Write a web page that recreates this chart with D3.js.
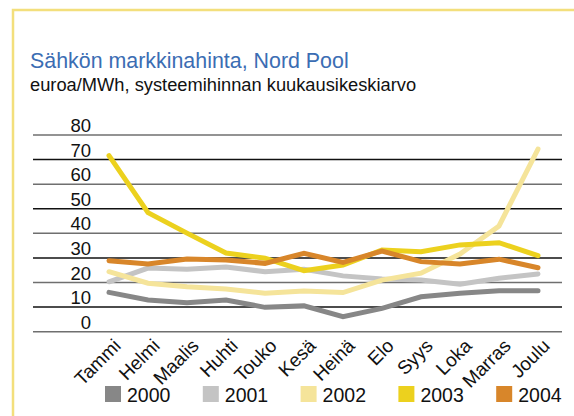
<!DOCTYPE html>
<html>
<head>
<meta charset="utf-8">
<script src="https://cdn.jsdelivr.net/npm/d3@7"></script>
<style>
  body { margin: 0; background: #fff; font-family: "Liberation Sans", Arial, sans-serif; }
</style>
</head>
<body>
<div id="chart"></div>
<script>
// Data
const months = ['Tammi', 'Helmi', 'Maalis', 'Huhti', 'Touko', 'Kesä', 'Heinä', 'Elo', 'Syys', 'Loka', 'Marras', 'Joulu'];
const years = ['2000', '2001', '2002', '2003', '2004'];
const y2000 = [16.0, 12.9, 11.8, 12.9, 9.9, 10.5, 6.1, 9.5, 14.2, 15.6, 16.7, 16.7];
const y2001 = [20.3, 25.9, 25.4, 26.3, 24.4, 25.4, 22.7, 21.4, 21.0, 19.3, 21.7, 23.5];
const y2002 = [24.4, 19.7, 18.3, 17.4, 15.6, 16.6, 15.9, 21.0, 23.8, 31.6, 43.0, 74.3];
const y2003 = [71.6, 48.4, 40.1, 32.0, 29.9, 24.8, 27.1, 33.2, 32.5, 35.3, 36.2, 30.9];
const y2004 = [28.9, 27.5, 29.6, 29.2, 27.8, 31.9, 28.2, 32.8, 28.5, 27.5, 29.5, 26.0];
const yTicks = [0, 10, 20, 30, 40, 50, 60, 70, 80];
const colors = ['#878787', '#c4c4c4', '#f5e49a', '#ecd11e', '#d8862a'];

const series = [y2000, y2001, y2002, y2003, y2004];

const width = 574, height = 416;

const svg = d3.select('#chart').append('svg')
    .attr('width', width)
    .attr('height', height);

// yellow frame
svg.append('path')
    .attr('d', `M13,${height} L13,10 L${width},10`)
    .attr('fill', 'none')
    .attr('stroke', '#f3df7c')
    .attr('stroke-width', 2.5);

// titles
svg.append('text')
    .attr('x', 30).attr('y', 68)
    .attr('fill', '#3b6db3')
    .attr('font-size', 21.4)
    .text('Sähkön markkinahinta, Nord Pool');

svg.append('text')
    .attr('x', 30).attr('y', 91)
    .attr('fill', '#111')
    .attr('font-size', 18.3)
    .text('euroa/MWh, systeemihinnan kuukausikeskiarvo');

const x = d3.scalePoint().domain(months).range([109, 538]);
const y = d3.scaleLinear().domain([0, 80]).range([331.7, 135]);

// gridlines + y labels
const grid = svg.append('g');
grid.selectAll('line')
    .data(yTicks)
    .join('line')
    .attr('x1', 33).attr('x2', 562)
    .attr('y1', d => y(d)).attr('y2', d => y(d))
    .attr('stroke', d => (d / 10) % 2 === 0 ? '#6f6f6f' : '#111')
    .attr('stroke-width', 1.5);

grid.selectAll('text')
    .data(yTicks)
    .join('text')
    .attr('x', 91)
    .attr('y', d => y(d) - 3)
    .attr('text-anchor', 'end')
    .attr('font-size', 18.5)
    .attr('fill', '#111')
    .text(d => d);

// lines
const line = d3.line()
    .x((d, i) => x(months[i]))
    .y(d => y(d));

svg.append('g').selectAll('path')
    .data(series)
    .join('path')
    .attr('d', line)
    .attr('fill', 'none')
    .attr('stroke', (d, i) => colors[i])
    .attr('stroke-width', 5)
    .attr('stroke-linejoin', 'miter')
    .attr('stroke-linecap', 'round');

// month labels
svg.append('g').selectAll('text')
    .data(months)
    .join('text')
    .attr('transform', d => `translate(${x(d) + 13},347) rotate(-45)`)
    .attr('text-anchor', 'end')
    .attr('font-size', 19)
    .attr('fill', '#111')
    .text(d => d);

// legend
const legend = svg.append('g').selectAll('g')
    .data(years)
    .join('g')
    .attr('transform', (d, i) => `translate(${105 + i * 97.8},386)`);

legend.append('rect')
    .attr('width', 16).attr('height', 16)
    .attr('fill', (d, i) => colors[i]);

legend.append('text')
    .attr('x', 22).attr('y', 16)
    .attr('font-size', 19.5)
    .attr('fill', '#111')
    .text(d => d);
</script>
</body>
</html>
